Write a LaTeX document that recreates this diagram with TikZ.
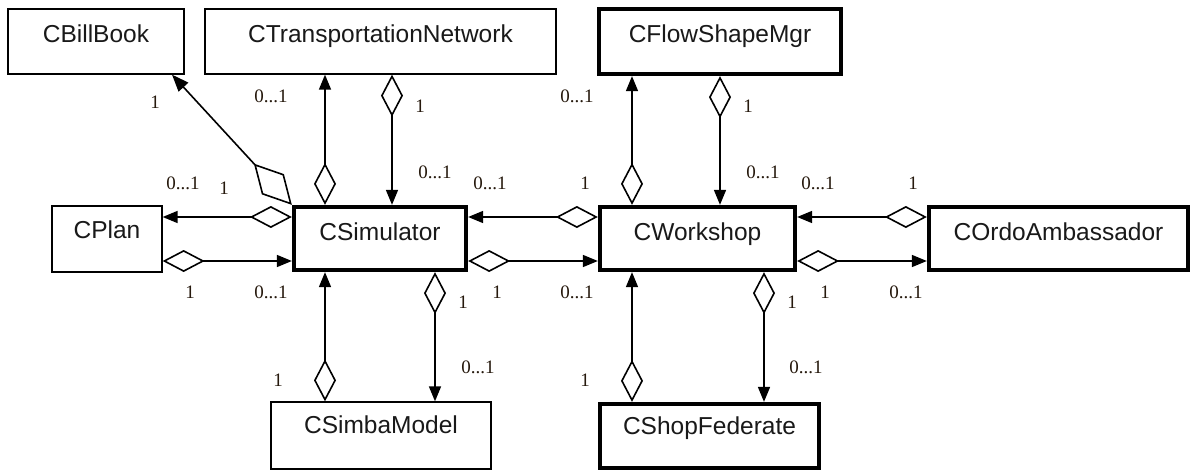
\documentclass[tikz,border=0pt]{standalone}
\usepackage{fontspec}
\setmainfont{Liberation Serif}
\newfontfamily\arialfont{Liberation Sans}
\usetikzlibrary{arrows.meta}
\begin{document}
\begin{tikzpicture}[x=1pt,y=-1pt,
  cls/.style={draw, rectangle, line width=1.3pt, inner sep=0pt,
    font=\arialfont\fontsize{24.5}{28}\selectfont, text=black!90, text height=33pt},
  thick cls/.style={cls, line width=4.3pt},
  agg/.style={line width=1.6pt,
    {Kite[open,length=42pt,width=22pt,inset=21pt,line width=1.6pt]}-{Triangle[length=15pt,width=12pt]}},
  bigagg/.style={line width=1.6pt,
    {Kite[open,length=56pt,width=30pt,inset=28pt,line width=1.6pt]}-{Triangle[length=17pt,width=13pt]}},
  lab/.style={font=\fontsize{19}{22}\selectfont, text=black!80!brown, inner sep=0pt}]
\useasboundingbox[fill=white] (0,0) rectangle (1192,471);

% classes
\node[cls, minimum width=176pt, text depth=32pt] (bb) at (96,41.5) {CBillBook};
\node[cls, minimum width=351pt, text depth=32pt] (tn) at (380.5,41.5) {CTransportationNetwork};
\node[thick cls, minimum width=242pt, text depth=32pt] (flow) at (720,41.5) {CFlowShapeMgr};
\node[cls, minimum width=110pt, text height=32pt, text depth=34pt] (plan) at (107,239) {CPlan};
\node[thick cls, minimum width=172pt, text depth=30pt] (sim) at (380,238.5) {CSimulator};
\node[thick cls, minimum width=195pt, text depth=30pt] (ws) at (697.5,238.5) {CWorkshop};
\node[thick cls, minimum width=259pt, text depth=30pt] (ordo) at (1058.5,238.5) {COrdoAmbassador};
\node[cls, minimum width=220pt, text height=31pt, text depth=36pt] (simba) at (381,435.5) {CSimbaModel};
\node[thick cls, minimum width=219pt, text height=30pt, text depth=34pt] (shop) at (709.5,436) {CShopFederate};

% column / row helpers
\coordinate (cA) at (325,0);
\coordinate (cB) at (392,0);
\coordinate (cC) at (435,0);
\coordinate (cD) at (632,0);
\coordinate (cE) at (720,0);
\coordinate (cF) at (764,0);
\coordinate (cG) at (172,0);
\coordinate (rU) at (0,217);
\coordinate (rL) at (0,261);

% connectors
\draw[bigagg] (sim.north west) -- (bb.south -| cG);
\draw[agg] (sim.north -| cA) -- (tn.south -| cA);
\draw[agg] (tn.south -| cB) -- (sim.north -| cB);
\draw[agg] (sim.west |- rU) -- (plan.east |- rU);
\draw[agg] (plan.east |- rL) -- (sim.west |- rL);
\draw[agg] (ws.west |- rU) -- (sim.east |- rU);
\draw[agg] (sim.east |- rL) -- (ws.west |- rL);
\draw[agg] (ws.north -| cD) -- (flow.south -| cD);
\draw[agg] (flow.south -| cE) -- (ws.north -| cE);
\draw[agg] (ordo.west |- rU) -- (ws.east |- rU);
\draw[agg] (ws.east |- rL) -- (ordo.west |- rL);
\draw[agg] (simba.north -| cA) -- (sim.south -| cA);
\draw[agg] (sim.south -| cC) -- (simba.north -| cC);
\draw[agg] (shop.north -| cD) -- (ws.south -| cD);
\draw[agg] (ws.south -| cF) -- (shop.north -| cF);

% multiplicities
\node[lab] (m1) at (155,102) {1};
\node[lab] (m2) at (271,96) {0...1};
\node[lab] (m3) at (183,183) {0...1};
\node[lab] (m4) at (224,188) {1};
\node[lab] (m5) at (420,106) {1};
\node[lab] (m6) at (435,172) {0...1};
\node[lab] (m7) at (490,183) {0...1};
\node[lab] (m8) at (585,183) {1};
\node[lab] (m9) at (577,96) {0...1};
\node[lab] (m10) at (748,106) {1};
\node[lab] (m11) at (763,172) {0...1};
\node[lab] (m12) at (818,183) {0...1};
\node[lab] (m13) at (913,183) {1};
\node[lab] (m14) at (190,292) {1};
\node[lab] (m15) at (271,292) {0...1};
\node[lab] (m16) at (497,292) {1};
\node[lab] (m17) at (577,292) {0...1};
\node[lab] (m18) at (825,292) {1};
\node[lab] (m19) at (906,292) {0...1};
\node[lab] (m20) at (463,302) {1};
\node[lab] (m21) at (478,367) {0...1};
\node[lab] (m22) at (278,380) {1};
\node[lab] (m23) at (585,380) {1};
\node[lab] (m24) at (792,302) {1};
\node[lab] (m25) at (806,367) {0...1};
\end{tikzpicture}
\end{document}
